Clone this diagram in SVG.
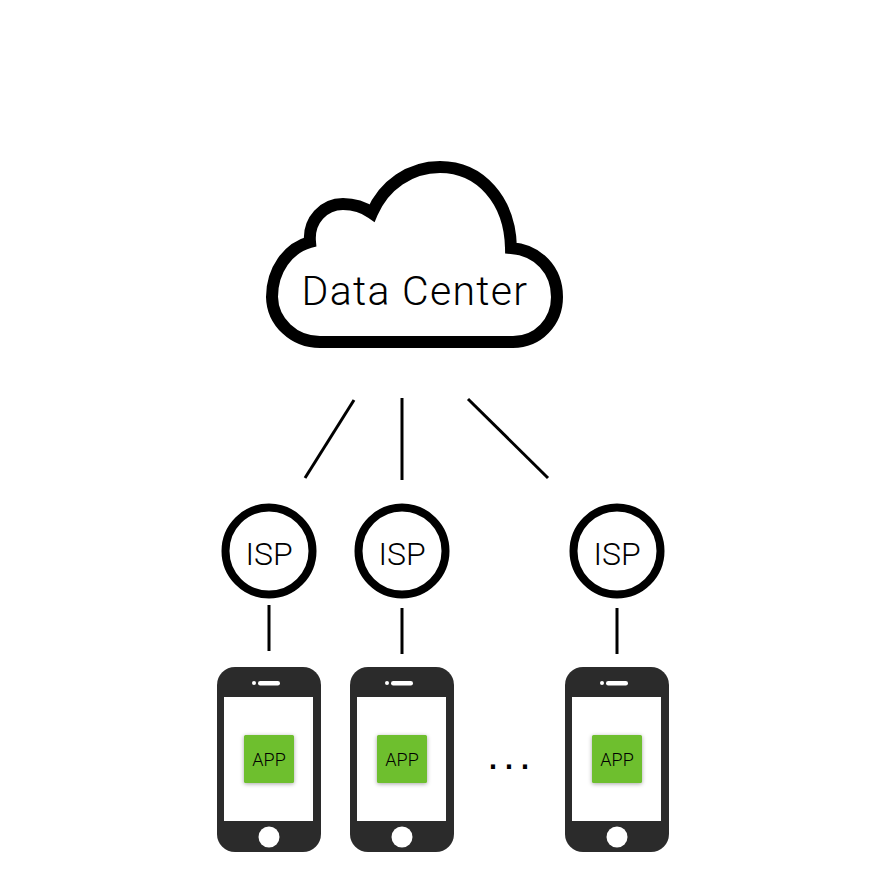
<svg xmlns="http://www.w3.org/2000/svg" width="883" height="883" viewBox="0 0 883 883">
<defs>
<filter id="sh" x="-20%" y="-20%" width="140%" height="140%"><feDropShadow dx="0" dy="1" stdDeviation="2" flood-color="#000" flood-opacity="0.35"/></filter>
<g id="phone">
<rect x="-52" y="0" width="104" height="185" rx="18" fill="#2b2b2b"/>
<rect x="-45" y="30" width="89" height="124" fill="#fff"/>
<circle cx="0" cy="170" r="10.5" fill="#fff"/>
<circle cx="-15" cy="16" r="2" fill="#fff"/>
<rect x="-11" y="14" width="22" height="4.5" rx="2.2" fill="#fff"/>
<rect x="-25" y="68" width="50" height="48" rx="1.5" fill="#6ebf2e" filter="url(#sh)"/>
<text x="0" y="99" class="t" font-size="18" text-anchor="middle">APP</text>
</g>
</defs>
<style>
.t{font-family:"Roboto","Liberation Sans",sans-serif;font-weight:300;fill:#000}
.isp{fill:#fff;stroke:#000;stroke-width:8}
.c{stroke:#000;stroke-width:3;fill:none}
</style>
<rect width="883" height="883" fill="#fff"/>
<g id="connectors">
<line class="c" x1="354" y1="400" x2="305" y2="478"/>
<line class="c" x1="402" y1="398" x2="402" y2="480"/>
<line class="c" x1="468" y1="399" x2="548" y2="478"/>
<line class="c" x1="269" y1="605" x2="269" y2="651"/>
<line class="c" x1="402" y1="608" x2="402" y2="654"/>
<line class="c" x1="617" y1="608" x2="617" y2="654"/>
</g>
<g id="cloud">
<path d="M320 342 A48 46 0 0 1 272 297 C272 270 288 248 310 242 C308 220 324 204 343 204 C355 204 365 208 372 213 C384 185 410 167 440 167 C480 167 510 200 511 248 C538 250 557 270 557 297 C557 322 538 342 513 342 Z" fill="#fff" stroke="#000" stroke-width="12" stroke-linejoin="miter"/>
<text x="415" y="305" class="t" font-size="41" letter-spacing="1.3" text-anchor="middle">Data Center</text>
</g>
<g id="isp1"><circle class="isp" cx="269" cy="551" r="43.500"/><text x="269" y="564.500" class="t" font-size="32" text-anchor="middle">ISP</text></g>
<g id="isp2"><circle class="isp" cx="402" cy="551" r="43.500"/><text x="402" y="564.500" class="t" font-size="32" text-anchor="middle">ISP</text></g>
<g id="isp3"><circle class="isp" cx="617" cy="551" r="43.500"/><text x="617" y="564.500" class="t" font-size="32" text-anchor="middle">ISP</text></g>
<g id="phone1"><use href="#phone" x="269" y="667"/></g>
<g id="phone2"><use href="#phone" x="402" y="667"/></g>
<g id="phone3"><use href="#phone" x="617" y="667"/></g>
<g id="ellipsis"><text x="487" y="769" font-family="Liberation Sans, sans-serif" font-size="43" letter-spacing="4" fill="#000">...</text></g>
</svg>
